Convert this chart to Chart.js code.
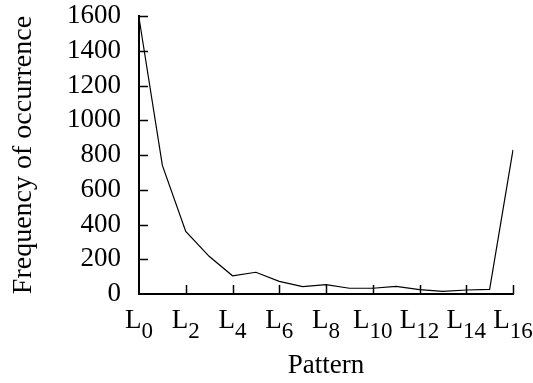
<!DOCTYPE html>
<html>
<head>
<meta charset="utf-8">
<script src="https://cdn.jsdelivr.net/npm/chart.js@4/dist/chart.umd.min.js"></script>
<style>
  body { margin: 0; background: #fff; }
</style>
</head>
<body>
<canvas id="patternChart" width="533" height="383"></canvas>
<script>
// Pattern frequency data
const patterns = ['L0', 'L1', 'L2', 'L3', 'L4', 'L5', 'L6', 'L7', 'L8',
                  'L9', 'L10', 'L11', 'L12', 'L13', 'L14', 'L15', 'L16'];
const frequency = [1590, 740, 360, 217, 105, 125, 73, 42, 54, 33, 33, 44, 25, 15, 23, 27, 830];
const yTicks = [0, 200, 400, 600, 800, 1000, 1200, 1400, 1600];

const serif = "'Liberation Serif', 'Times New Roman', serif";

// short tick marks pointing into the plot, and L_n labels with real subscripts
const innerTicks = {
    id: 'innerTicks',
    afterDraw(chart) {
        const ctx = chart.ctx;
        const area = chart.chartArea;
        const x = chart.scales.x;
        const y = chart.scales.y;
        ctx.save();
        ctx.strokeStyle = '#000';
        ctx.lineWidth = 1.5;
        ctx.beginPath();
        yTicks.forEach(v => {
            if (v === 0) return;
            const py = Math.round(y.getPixelForValue(v)) + 0.5;
            ctx.moveTo(area.left, py);
            ctx.lineTo(area.left + 9, py);
        });
        patterns.forEach((p, i) => {
            if (i === 0 || i % 2) return;
            const px = Math.round(x.getPixelForValue(i)) + 0.5;
            ctx.moveTo(px, area.bottom);
            ctx.lineTo(px, area.bottom - 9);
        });
        ctx.stroke();

        ctx.fillStyle = '#000';
        ctx.textBaseline = 'alphabetic';
        ctx.textAlign = 'left';
        patterns.forEach((p, i) => {
            if (i % 2) return;
            const main = p.charAt(0);
            const sub = p.slice(1);
            ctx.font = '27px ' + serif;
            const wMain = ctx.measureText(main).width;
            ctx.font = '23px ' + serif;
            const wSub = ctx.measureText(sub).width;
            const left = x.getPixelForValue(i) - (wMain + wSub) / 2;
            ctx.font = '27px ' + serif;
            ctx.fillText(main, left, area.bottom + 34);
            ctx.font = '23px ' + serif;
            ctx.fillText(sub, left + wMain, area.bottom + 44);
        });
        ctx.restore();
    }
};

const ctx = document.getElementById('patternChart').getContext('2d');
new Chart(ctx, {
    type: 'line',
    data: {
        labels: patterns,
        datasets: [{
            label: 'Frequency',
            data: frequency,
            borderColor: '#000',
            borderWidth: 1.2,
            pointRadius: 0,
            fill: false,
            tension: 0
        }]
    },
    options: {
        responsive: false,
        animation: false,
        layout: {
            padding: { top: 16, right: 20, left: 0, bottom: 0 }
        },
        plugins: {
            legend: { display: false },
            tooltip: { enabled: false }
        },
        scales: {
            x: {
                offset: false,
                grid: { display: false, drawTicks: false },
                border: { display: true, color: '#000', width: 2 },
                ticks: {
                    autoSkip: false,
                    maxRotation: 0,
                    callback: () => ''
                },
                title: {
                    display: true,
                    text: 'Pattern',
                    color: '#000',
                    font: { family: serif, size: 27 },
                    padding: { top: 0, bottom: 1 }
                },
                afterFit: s => {
                    s.height = 89;
                    s.paddingLeft = 0;
                    s.paddingRight = 0;
                }
            },
            y: {
                min: 0,
                max: 1600,
                grid: { display: false, drawTicks: false },
                border: { display: true, color: '#000', width: 2 },
                afterBuildTicks: s => { s.ticks = yTicks.map(v => ({ value: v })); },
                ticks: {
                    autoSkip: false,
                    padding: 18,
                    color: '#000',
                    font: { family: serif, size: 27 },
                    callback: v => String(v)
                },
                title: {
                    display: true,
                    text: 'Frequency of occurrence',
                    color: '#000',
                    font: { family: serif, size: 28 },
                    padding: { top: 7, bottom: 0 }
                },
                afterFit: s => {
                    s.width = 139;
                    s.paddingTop = 0;
                    s.paddingBottom = 0;
                }
            }
        }
    },
    plugins: [innerTicks]
});
</script>
</body>
</html>
